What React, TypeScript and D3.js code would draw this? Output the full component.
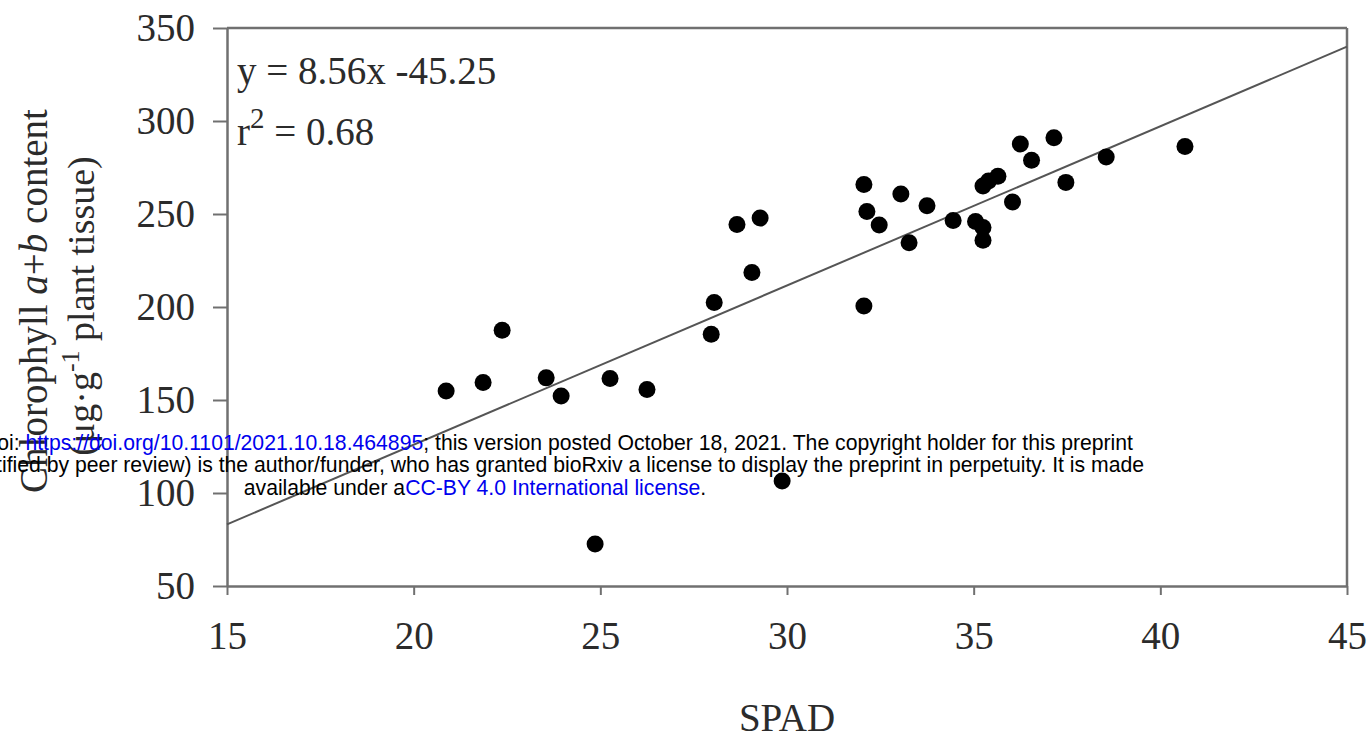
import { useEffect, useRef } from 'react'
import * as d3 from 'd3'

// SPAD readings and matching chlorophyll a+b content
const spad = [
  20.87, 21.86, 22.37, 23.55, 23.95, 25.26, 26.25, 24.86, 27.97, 28.05,
  28.66, 29.28, 29.06, 29.87, 32.06, 32.06, 32.14, 32.47, 33.05, 33.27,
  33.75, 34.45, 35.05, 35.25, 35.25, 35.25, 35.4, 35.65, 36.04, 36.25,
  36.55, 37.15, 37.47, 38.55, 40.66
]
const chlorophyll = [
  154.8, 159.4, 187.5, 161.9, 152.2, 161.6, 155.6, 72.6, 185.3, 202.4,
  244.3, 247.8, 218.6, 106.5, 265.9, 200.5, 251.4, 244.1, 260.7, 234.6,
  254.4, 246.5, 246.0, 242.8, 235.9, 265.1, 267.8, 270.3, 256.4, 287.6,
  278.9, 291.0, 267.0, 280.7, 286.3
]

const xTicks = [15, 20, 25, 30, 35, 40, 45]
const yTicks = [50, 100, 150, 200, 250, 300, 350]

const slope = 8.56
const intercept = -45.25

function App() {
  const svgRef = useRef(null)

  useEffect(() => {
    const width = 1369
    const height = 741
    const margin = { top: 28, right: 22, bottom: 155, left: 227 }
    const innerWidth = width - margin.left - margin.right
    const innerHeight = height - margin.top - margin.bottom

    const svg = d3.select(svgRef.current)
    svg.selectAll('*').remove()

    const x = d3.scaleLinear().domain([15, 45]).range([0, innerWidth])
    const y = d3.scaleLinear().domain([50, 350]).range([innerHeight, 0])

    const g = svg.append('g')
      .attr('transform', `translate(${margin.left},${margin.top})`)

    const axisColor = '#707070'
    const serif = '"Liberation Serif", "Times New Roman", serif'

    // frame (top + right)
    g.append('line')
      .attr('x1', 0).attr('x2', innerWidth).attr('y1', 0).attr('y2', 0)
      .attr('stroke', axisColor).attr('stroke-width', 2.5)
    g.append('line')
      .attr('x1', innerWidth).attr('x2', innerWidth).attr('y1', 0).attr('y2', innerHeight)
      .attr('stroke', axisColor).attr('stroke-width', 2.5)

    // axes
    const xAxis = g.append('g')
      .attr('transform', `translate(0,${innerHeight})`)
      .call(d3.axisBottom(x).tickValues(xTicks).tickSize(9).tickPadding(26).tickSizeOuter(0))
    const yAxis = g.append('g')
      .call(d3.axisLeft(y).tickValues(yTicks).tickSize(14).tickPadding(18).tickSizeOuter(0))

    ;[xAxis, yAxis].forEach(ax => {
      ax.select('.domain').attr('stroke', axisColor).attr('stroke-width', 2.5)
      ax.selectAll('.tick line').attr('stroke', axisColor).attr('stroke-width', 2)
      ax.selectAll('.tick text')
        .attr('fill', '#2b2b2b')
        .style('font-family', serif)
        .style('font-size', '39px')
    })

    // regression line
    g.append('line')
      .attr('x1', x(15)).attr('y1', y(slope * 15 + intercept))
      .attr('x2', x(45)).attr('y2', y(slope * 45 + intercept))
      .attr('stroke', '#555').attr('stroke-width', 2)

    // points
    g.selectAll('.dot')
      .data(spad.map((s, i) => ({ s, c: chlorophyll[i] })))
      .enter()
      .append('circle')
      .attr('class', 'dot')
      .attr('cx', d => x(d.s))
      .attr('cy', d => y(d.c))
      .attr('r', 8.5)
      .attr('fill', '#000')

    // equation
    g.append('text')
      .attr('x', 10).attr('y', 56)
      .attr('fill', '#2b2b2b')
      .style('font-family', serif)
      .style('font-size', '39px')
      .text('y = 8.56x -45.25')

    const r2 = g.append('text')
      .attr('x', 10).attr('y', 117)
      .attr('fill', '#2b2b2b')
      .style('font-family', serif)
      .style('font-size', '39px')
    r2.append('tspan').text('r')
    r2.append('tspan').attr('dy', -17).style('font-size', '29px').text('2')
    r2.append('tspan').attr('dy', 17).text(' = 0.68')

    // x title
    svg.append('text')
      .attr('x', margin.left + innerWidth / 2)
      .attr('y', 731)
      .attr('text-anchor', 'middle')
      .attr('fill', '#2b2b2b')
      .style('font-family', serif)
      .style('font-size', '39px')
      .text('SPAD')

    // y title (two lines)
    const yt1 = svg.append('text')
      .attr('transform', 'translate(47,301) rotate(-90)')
      .attr('text-anchor', 'middle')
      .attr('fill', '#2b2b2b')
      .style('font-family', serif)
      .style('font-size', '39px')
    yt1.append('tspan').text('Chlorophyll ')
    yt1.append('tspan').style('font-style', 'italic').text('a')
    yt1.append('tspan').text('+')
    yt1.append('tspan').style('font-style', 'italic').text('b')
    yt1.append('tspan').text(' content')

    const yt2 = svg.append('text')
      .attr('transform', 'translate(94,306) rotate(-90)')
      .attr('text-anchor', 'middle')
      .attr('fill', '#2b2b2b')
      .style('font-family', serif)
      .style('font-size', '38px')
    yt2.append('tspan').text('(\u03bcg\u00b7g')
    yt2.append('tspan').attr('dy', -15).style('font-size', '26px').text('-1')
    yt2.append('tspan').attr('dy', 15).text(' plant tissue)')

    // bioRxiv overlay
    const sans = '"Liberation Sans", Arial, sans-serif'
    const l1 = svg.append('text')
      .attr('x', 1133).attr('y', 450)
      .attr('text-anchor', 'end')
      .style('font-family', sans).style('font-size', '21.2px')
    l1.append('tspan').attr('fill', '#000').text('bioRxiv preprint doi: ')
    l1.append('tspan').attr('fill', '#0000ee').text('https://doi.org/10.1101/2021.10.18.464895')
    l1.append('tspan').attr('fill', '#000').text('; this version posted October 18, 2021. The copyright holder for this preprint')

    svg.append('text')
      .attr('x', 1144).attr('y', 472)
      .attr('text-anchor', 'end')
      .attr('fill', '#000')
      .style('font-family', sans).style('font-size', '21.2px')
      .text('(which was not certified by peer review) is the author/funder, who has granted bioRxiv a license to display the preprint in perpetuity. It is made')

    const l3 = svg.append('text')
      .attr('x', 475).attr('y', 495)
      .attr('text-anchor', 'middle')
      .style('font-family', sans).style('font-size', '21.2px')
    l3.append('tspan').attr('fill', '#000').text('available under a')
    l3.append('tspan').attr('fill', '#0000ee').text('CC-BY 4.0 International license')
    l3.append('tspan').attr('fill', '#000').text('.')
  }, [])

  return (
    <svg
      ref={svgRef}
      width={1369}
      height={741}
      style={{ position: 'absolute', left: 0, top: 0, background: '#fff' }}
    />
  )
}

export default App
